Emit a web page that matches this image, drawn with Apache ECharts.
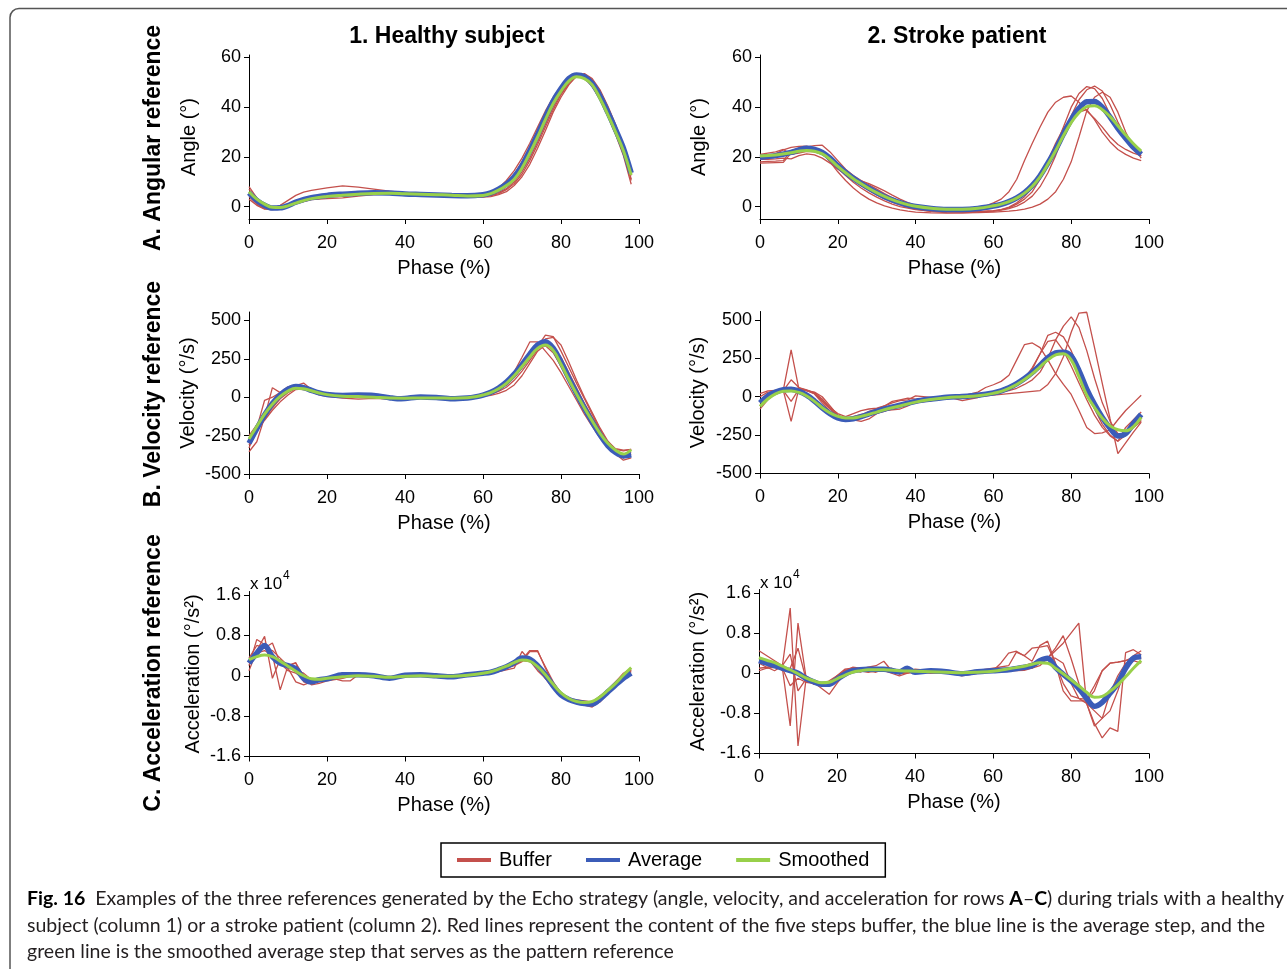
<!DOCTYPE html>
<html lang="en">
<head>
<meta charset="UTF-8">
<title>Echo strategy references</title>
<script src="https://cdn.jsdelivr.net/npm/echarts@6.0.0/dist/echarts.min.js"></script>
<style>
  html, body { margin: 0; padding: 0; background: #fff; }
  #main { width: 1287px; height: 969px; }
</style>
</head>
<body>
<div id="main"></div>
<script type="text/javascript">
// values, as [phase %, value]

// A1 healthy subject, angle (deg)
var a1Buf1 = [[0,8],[2,3.5],[4,0.5],[6,-0.5],[8,0.5],[10,2.5],[12,4.5],[14,5.8],[16,6.5],[20,7.5],[24,8.3],[28,7.8],[32,7],[36,6.2],[40,5.6],[44,5.2],[48,5],[52,4.8],[56,4.5],[60,4.6],[62,5.5],[64,7.5],[66,10.5],[68,14.5],[70,19.5],[72,25.5],[74,32],[76,38.5],[78,44],[80,48.5],[82,51.5],[84,52.5],[86,51.5],[88,48.5],[90,43],[92,36.5],[94,29],[96,20.5],[98,9]];
var a1Buf2 = [[0,3],[2,0.5],[4,-1],[6,-1.2],[8,-0.8],[10,0],[12,1.2],[16,2.8],[20,3.2],[24,3.5],[28,4.2],[32,4.8],[36,5],[40,4.9],[44,4.8],[48,4.6],[52,4.4],[56,4],[60,3.8],[62,4],[64,4.8],[66,6],[68,8.5],[70,12],[72,17],[74,23.5],[76,30.5],[78,38],[80,44],[82,49],[84,52.5],[86,53.5],[88,51.5],[90,47],[92,40.5],[94,33],[96,24.5],[98,13]];
var a1Buf3 = [[0,5],[2,1.5],[4,-0.5],[6,-1],[8,-0.8],[10,0.3],[12,1.5],[16,3],[20,3.8],[24,4.2],[28,4.8],[32,5.2],[36,5.3],[40,5.2],[44,5],[48,4.9],[52,4.7],[56,4.3],[60,4.2],[62,4.6],[64,5.6],[66,7.2],[68,10],[70,14],[72,19.5],[74,26],[76,33],[78,40],[80,45.5],[82,50],[84,52.5],[86,53],[88,50.5],[90,45.5],[92,39],[94,31.5],[96,23],[98,11]];
var a1Buf4 = [[0,7],[2,2.5],[4,0],[6,-0.6],[8,-0.2],[10,1],[12,2.2],[16,3.6],[20,4.2],[24,4.6],[28,5],[32,5.4],[36,5.5],[40,5.3],[44,5.1],[48,4.9],[52,4.6],[56,4.4],[60,4.6],[62,5.4],[64,7],[66,9.5],[68,13],[70,18],[72,24],[74,31],[76,37.5],[78,43],[80,47.5],[82,51],[84,52.5],[86,52],[88,49],[90,44],[92,37.5],[94,30],[96,21.5],[98,10.5]];
var a1Buf5 = [[0,4],[2,1],[4,-0.8],[6,-1],[8,-0.5],[10,0.5],[12,1.8],[16,3.3],[20,4],[24,4.4],[28,4.9],[32,5.3],[36,5.4],[40,5.2],[44,5],[48,4.8],[52,4.5],[56,4.1],[60,4],[62,4.3],[64,5.2],[66,6.8],[68,9.3],[70,13],[72,18.5],[74,25],[76,32],[78,39],[80,45],[82,49.5],[84,52.5],[86,53.3],[88,51],[90,46.5],[92,40],[94,32.5],[96,24],[98,12.5]];
var a1Avg = [[0,5.5],[2,2.5],[4,0.5],[6,-0.6],[8,-0.5],[10,0.4],[12,1.8],[16,3.6],[20,4.5],[24,5],[28,5.4],[32,5.6],[36,5.5],[40,5.1],[44,4.9],[48,4.7],[52,4.5],[56,4.4],[60,4.8],[62,5.5],[64,7],[66,9],[68,12],[70,16.5],[72,22.5],[74,29],[76,36],[78,42.5],[80,47.5],[82,51.5],[84,53],[86,52.3],[88,49.5],[90,44.5],[92,38],[94,31],[96,23.5],[98,13.5]];
var a1Smooth = [[0,6],[2,3],[4,1],[6,-0.3],[8,-0.4],[10,0.3],[12,1.4],[16,3.2],[20,4.1],[24,4.6],[28,5],[32,5.3],[36,5.4],[40,5.2],[44,5],[48,4.8],[52,4.6],[56,4.3],[60,4.5],[62,5.2],[64,6.6],[66,8.5],[68,11],[70,15.5],[72,21.5],[74,28],[76,35],[78,41.5],[80,46.5],[82,50.5],[84,52.2],[86,51.5],[88,49],[90,43.5],[92,37],[94,30],[96,22.5],[98,12.7]];

// A2 stroke patient, angle (deg)
var a2Buf1 = [[0,20.5],[2,20.8],[4,21.2],[6,22.8],[8,23.8],[10,24.2],[12,24.3],[14,23.5],[16,21.5],[18,18.5],[20,15.5],[22,12.5],[24,9.8],[26,7.5],[28,5.5],[30,3.8],[32,2.3],[34,1],[36,0],[40,-1.2],[44,-1.8],[48,-2],[52,-1.8],[56,-1],[60,1.5],[62,3],[64,6],[66,11],[68,18.5],[70,25.5],[72,32],[74,38],[76,42],[78,44],[80,44.5],[82,42],[84,38.5],[86,35.5],[88,32],[90,28],[92,25],[94,23],[96,21.5],[98,20.5]];
var a2Buf2 = [[0,19],[2,19],[4,19.2],[6,19.5],[8,19.2],[10,20.5],[12,21.2],[14,20.8],[16,19.5],[18,17.5],[20,15],[22,13],[24,11.8],[26,10.3],[28,9.2],[30,7.8],[32,6.3],[34,4.6],[36,3],[38,1.6],[40,0.5],[44,-1],[48,-1.7],[52,-1.9],[56,-1.9],[60,-1.6],[62,-1.2],[64,-0.5],[66,1],[68,3],[70,6],[72,11],[74,17],[76,24],[78,32],[80,40],[82,45.5],[84,48.3],[86,47.5],[88,43.5],[90,37],[92,31],[94,26.5],[96,23.5],[98,21.5]];
var a2Buf3 = [[0,18],[2,18.2],[4,18.3],[6,18.5],[8,22.5],[10,23.5],[12,24],[14,24.5],[16,24.7],[18,22],[20,18.5],[22,15],[24,12.5],[26,10.5],[28,8.8],[30,7],[32,5.2],[34,3.5],[36,2],[38,0.8],[40,-0.2],[44,-1.5],[48,-2],[52,-2.2],[56,-2.1],[60,-1.8],[62,-1.4],[64,-0.8],[66,0.2],[68,1.8],[70,4.2],[72,8],[74,13.5],[76,20.5],[78,28.5],[80,36.5],[82,43],[84,47],[86,48.5],[88,46.5],[90,41],[92,34],[94,28],[96,23.5],[98,20.5]];
var a2Buf4 = [[0,21],[2,21.5],[4,22],[6,23],[8,21],[10,21.5],[12,22.2],[14,22],[16,21],[18,19],[20,16.5],[22,13.5],[24,10.8],[26,8.5],[28,6.5],[30,4.7],[32,3.2],[34,1.8],[36,0.7],[38,-0.3],[40,-1],[44,-2],[48,-2.4],[52,-2.5],[56,-2.4],[60,-2.2],[62,-2],[64,-1.8],[66,-1.5],[68,-1],[70,-0.2],[72,1],[74,3],[76,6],[78,11],[80,18],[82,28],[84,38.5],[86,44],[88,46],[90,44],[92,38],[94,30],[96,24],[98,19.5]];
var a2Buf5 = [[0,17.5],[2,17.6],[4,17.7],[6,17.8],[8,21.5],[10,22.5],[12,23],[14,22.5],[16,21.5],[18,18],[20,14],[22,10.5],[24,7.5],[26,5],[28,3],[30,1.5],[32,0.3],[34,-0.6],[36,-1.3],[38,-1.8],[40,-2.2],[44,-2.5],[48,-2.6],[52,-2.5],[56,-2.2],[60,-1.8],[62,-1.2],[64,-0.2],[66,1.5],[68,4],[70,7.5],[72,12.5],[74,18.5],[76,25.5],[78,31.5],[80,35.5],[82,38],[84,39],[86,35],[88,30],[90,26],[92,23],[94,21],[96,19.5],[98,18.5]];
var a2Avg = [[0,19.8],[4,20.5],[8,21.8],[10,22.8],[12,23.5],[14,23],[16,21.8],[18,19.5],[20,16.5],[22,13.8],[24,11.4],[26,9.3],[28,7.4],[30,5.6],[32,4],[34,2.7],[36,1.6],[38,0.7],[40,0],[44,-0.8],[48,-1.2],[52,-1.2],[56,-0.8],[60,0.2],[62,0.9],[64,2],[66,3.5],[68,5.6],[70,8.5],[72,12.4],[74,17.5],[76,23],[78,29.2],[80,35],[82,39.5],[84,42.2],[86,42.3],[88,40],[90,36],[92,31.5],[94,27.5],[96,23.8],[98,21]];
var a2Smooth = [[0,20.4],[4,20.8],[8,21.7],[10,22.3],[12,22.6],[14,22.3],[16,21.2],[18,19],[20,16.2],[22,13.6],[24,11.2],[26,9.2],[28,7.3],[30,5.6],[32,4.1],[34,2.8],[36,1.7],[38,0.8],[40,0.1],[44,-0.7],[48,-1.1],[52,-1.1],[56,-0.7],[60,0.3],[62,1],[64,2],[66,3.4],[68,5.4],[70,8.2],[72,12],[74,17],[76,22.5],[78,28.5],[80,33.8],[82,37.8],[84,40.2],[86,40.6],[88,39],[90,36.2],[92,32.5],[94,28.8],[96,25.3],[98,22.3]];

// B1 healthy subject, velocity (deg/s)
var b1Buf1 = [[0,-355],[2,-290],[4,-130],[6,62],[8,30],[10,68],[12,80],[14,72],[16,42],[18,25],[20,18],[24,8],[28,-2],[32,2],[36,-5],[40,-10],[44,-8],[48,-5],[52,-6],[56,-2],[60,15],[62,28],[64,50],[66,80],[68,128],[70,190],[72,255],[74,330],[76,405],[78,395],[80,300],[82,195],[84,90],[86,-10],[88,-110],[90,-210],[92,-300],[94,-370],[96,-410],[98,-395]];
var b1Buf2 = [[0,-330],[2,-200],[4,-20],[6,0],[8,30],[10,55],[12,75],[14,92],[16,50],[18,30],[20,22],[24,12],[28,6],[32,3],[36,-4],[40,-6],[44,-5],[48,-4],[52,-5],[56,-2],[60,10],[62,20],[64,38],[66,65],[68,110],[70,170],[72,240],[74,310],[76,380],[78,390],[80,340],[82,230],[84,110],[86,0],[88,-100],[90,-200],[92,-285],[94,-340],[96,-350],[98,-340]];
var b1Buf3 = [[0,-280],[2,-210],[4,-150],[6,-85],[8,-30],[10,15],[12,50],[14,55],[16,40],[18,28],[20,25],[24,20],[28,15],[32,8],[36,0],[40,-5],[44,-4],[48,-3],[52,-4],[56,0],[60,18],[62,35],[64,65],[66,105],[68,165],[70,260],[72,360],[74,360],[76,300],[78,240],[80,160],[82,70],[84,-20],[86,-110],[88,-190],[90,-265],[92,-325],[94,-365],[96,-385],[98,-360]];
var b1Buf4 = [[0,-250],[2,-180],[4,-110],[6,-40],[8,20],[10,60],[12,80],[14,70],[16,35],[18,15],[20,5],[24,-5],[28,-12],[32,-8],[36,-12],[40,-10],[44,-8],[48,-8],[52,-10],[56,-5],[60,5],[62,12],[64,25],[66,45],[68,80],[70,140],[72,220],[74,300],[76,340],[78,330],[80,260],[82,160],[84,60],[86,-40],[88,-130],[90,-215],[92,-290],[94,-335],[96,-345],[98,-340]];
var b1Buf5 = [[0,-310],[2,-220],[4,-140],[6,-70],[8,-10],[10,30],[12,55],[14,50],[16,45],[18,32],[20,20],[24,8],[28,0],[32,-3],[36,-8],[40,-5],[44,-3],[48,-5],[52,-8],[56,-4],[60,12],[62,25],[64,48],[66,82],[68,130],[70,195],[72,270],[74,330],[76,335],[78,290],[80,200],[82,100],[84,5],[86,-85],[88,-170],[90,-250],[92,-320],[94,-370],[96,-395],[98,-370]];
var b1Avg = [[0,-300],[2,-205],[4,-115],[6,-40],[8,15],[10,52],[12,70],[14,63],[16,45],[18,28],[20,18],[24,12],[28,14],[32,12],[36,-3],[38,-10],[40,-8],[44,2],[48,-2],[52,-10],[56,-5],[58,2],[60,14],[62,32],[64,60],[66,98],[68,150],[70,212],[72,280],[74,340],[76,362],[78,320],[80,230],[82,125],[84,25],[86,-70],[88,-160],[90,-245],[92,-315],[94,-360],[96,-382],[98,-375]];
var b1Smooth = [[0,-272],[2,-190],[4,-110],[6,-45],[8,5],[10,40],[12,58],[14,55],[16,42],[18,28],[20,17],[24,7],[28,4],[32,0],[36,-5],[40,-6],[44,-5],[48,-5],[52,-6],[56,-3],[58,3],[60,14],[62,30],[64,55],[66,90],[68,140],[70,200],[72,262],[74,318],[76,340],[78,305],[80,215],[82,115],[84,20],[86,-70],[88,-155],[90,-235],[92,-300],[94,-345],[96,-370],[98,-342]];

// B2 stroke patient, velocity (deg/s)
var b2Buf1 = [[0,20],[2,38],[4,42],[6,45],[8,305],[10,50],[12,40],[14,20],[16,-30],[18,-80],[20,-120],[22,-150],[24,-140],[26,-120],[28,-95],[30,-80],[32,-60],[34,-40],[36,-25],[38,-20],[40,5],[44,-5],[48,-5],[52,5],[56,30],[58,60],[60,78],[62,100],[64,140],[66,240],[68,340],[70,350],[72,320],[74,240],[76,150],[78,80],[80,15],[82,-90],[84,-200],[86,-240],[88,-235],[90,-215],[92,-150],[94,-90],[96,-40],[98,10]];
var b2Buf2 = [[0,-80],[2,-20],[4,20],[6,40],[8,110],[10,60],[12,45],[14,25],[16,-20],[18,-70],[20,-110],[22,-130],[24,-110],[26,-90],[28,-80],[30,-75],[32,-60],[34,-30],[36,-20],[38,-10],[40,-15],[44,-10],[48,0],[52,-25],[56,-5],[60,30],[62,40],[64,55],[66,75],[68,110],[70,180],[72,280],[74,400],[76,420],[78,390],[80,300],[82,180],[84,40],[86,-80],[88,-180],[90,-250],[92,-290],[94,-250],[96,-200],[98,-160]];
var b2Buf3 = [[0,-60],[2,0],[4,30],[6,40],[8,-160],[10,55],[12,40],[14,25],[16,-15],[18,-75],[20,-130],[22,-155],[24,-150],[26,-160],[28,-145],[30,-110],[32,-90],[34,-85],[36,-80],[38,-60],[40,-30],[44,-25],[48,-10],[52,0],[56,5],[60,20],[62,30],[64,40],[66,55],[68,80],[70,110],[72,160],[74,250],[76,370],[78,460],[80,520],[82,450],[84,300],[86,120],[88,-40],[90,-160],[92,-240],[94,-240],[96,-200],[98,-150]];
var b2Buf4 = [[0,0],[2,30],[4,35],[6,40],[8,-30],[10,50],[12,40],[14,30],[16,0],[18,-60],[20,-120],[22,-145],[24,-130],[26,-115],[28,-110],[30,-100],[32,-80],[34,-65],[36,-60],[38,-45],[40,-20],[44,-15],[48,-5],[52,-5],[56,0],[60,10],[62,15],[64,20],[66,25],[68,30],[70,35],[72,40],[74,80],[76,150],[78,260],[80,420],[82,545],[84,550],[86,320],[88,85],[90,-145],[92,-370],[94,-300],[96,-230],[98,-165]];
var b2Buf5 = [[0,-40],[2,10],[4,40],[6,45],[8,45],[10,58],[12,42],[14,18],[16,-40],[18,-95],[20,-140],[22,-150],[24,-145],[26,-140],[28,-120],[30,-105],[32,-95],[34,-70],[36,-60],[38,-50],[40,-40],[44,-25],[48,-10],[52,5],[56,10],[60,20],[62,30],[64,45],[66,75],[68,120],[70,190],[72,280],[74,360],[76,370],[78,300],[80,200],[82,90],[84,-20],[86,-120],[88,-200],[90,-255],[92,-290],[94,-200],[96,-150],[98,-100]];
var b2Avg = [[0,-40],[2,5],[4,30],[6,45],[8,48],[10,35],[12,10],[14,-28],[16,-72],[18,-110],[20,-138],[22,-148],[24,-143],[26,-130],[28,-112],[30,-95],[32,-80],[36,-55],[40,-30],[44,-15],[48,-3],[52,2],[56,10],[60,25],[62,38],[64,58],[66,85],[68,118],[70,158],[72,205],[74,255],[76,285],[78,290],[80,265],[82,170],[84,50],[86,-50],[88,-135],[90,-205],[92,-255],[94,-240],[96,-175],[98,-115]];
var b2Smooth = [[0,-63],[2,-15],[4,18],[6,35],[8,38],[10,28],[12,5],[14,-30],[16,-72],[18,-105],[20,-128],[22,-138],[24,-138],[26,-128],[28,-115],[30,-100],[32,-85],[36,-60],[40,-35],[44,-18],[48,-6],[52,0],[56,6],[60,22],[62,35],[64,55],[66,80],[68,112],[70,150],[72,195],[74,240],[76,272],[78,280],[80,240],[82,130],[84,10],[86,-70],[88,-140],[90,-190],[92,-215],[94,-222],[96,-195],[98,-135]];

// C1 healthy subject, acceleration (x 10^4 deg/s^2)
var c1Buf1 = [[0,0.2],[2,0.72],[4,0.62],[6,0.42],[8,-0.28],[10,0.2],[12,0.26],[14,-0.12],[16,-0.16],[18,-0.1],[20,-0.05],[24,0.05],[28,0.05],[32,0],[36,-0.03],[40,0],[44,0.02],[48,0],[52,-0.02],[56,0.02],[60,0.05],[64,0.1],[68,0.2],[70,0.28],[72,0.48],[74,0.48],[76,0.18],[78,-0.12],[80,-0.35],[82,-0.48],[84,-0.55],[86,-0.58],[88,-0.62],[90,-0.5],[92,-0.32],[94,-0.15],[96,0],[98,0.1]];
var c1Buf2 = [[0,0.1],[2,0.5],[4,0.78],[6,-0.05],[8,0.32],[10,0.15],[12,-0.12],[14,-0.18],[16,-0.12],[18,-0.1],[20,-0.08],[22,-0.06],[24,-0.1],[26,-0.1],[28,0.02],[32,0.02],[36,-0.02],[40,0.02],[44,0.01],[48,-0.01],[52,-0.02],[56,0],[60,0.04],[64,0.08],[68,0.15],[70,0.48],[72,0.3],[74,0.1],[76,-0.05],[78,-0.2],[80,-0.36],[82,-0.45],[84,-0.5],[86,-0.55],[88,-0.6],[90,-0.48],[92,-0.3],[94,-0.12],[96,0.05],[98,0.15]];
var c1Buf3 = [[0,0.35],[2,0.6],[4,0.55],[6,0.65],[8,0.25],[10,0.1],[12,0.05],[14,-0.05],[16,-0.1],[18,-0.1],[20,-0.05],[24,0.05],[28,0.05],[32,0],[36,-0.02],[40,0],[44,0],[48,-0.02],[52,0],[56,0.02],[60,0.06],[64,0.1],[68,0.25],[70,0.35],[72,0.3],[74,0.15],[76,-0.05],[78,-0.25],[80,-0.4],[82,-0.45],[84,-0.48],[86,-0.5],[88,-0.52],[90,-0.4],[92,-0.28],[94,-0.12],[96,0.02],[98,0.12]];
var c1Buf4 = [[0,0.3],[2,0.45],[4,0.5],[6,0.4],[8,0.3],[10,0.2],[12,0.1],[14,0.05],[16,-0.08],[18,-0.1],[20,-0.05],[24,0.05],[28,0.03],[32,0],[36,-0.03],[40,0],[44,0.01],[48,0],[52,-0.01],[56,0.01],[60,0.05],[64,0.13],[68,0.28],[70,0.32],[72,0.5],[74,0.5],[76,0.15],[78,-0.15],[80,-0.35],[82,-0.47],[84,-0.52],[86,-0.55],[88,-0.6],[90,-0.52],[92,-0.35],[94,-0.18],[96,-0.02],[98,0.08]];
var c1Buf5 = [[0,0.25],[2,0.5],[4,0.55],[6,0.5],[8,0.35],[10,0.2],[12,0.25],[14,0],[16,-0.18],[18,-0.15],[20,-0.1],[24,-0.05],[28,0.03],[32,0],[36,-0.02],[40,0.01],[44,0.01],[48,-0.01],[52,-0.01],[56,0.01],[60,0.04],[64,0.1],[68,0.22],[70,0.3],[72,0.28],[74,0.2],[76,-0.05],[78,-0.25],[80,-0.38],[82,-0.46],[84,-0.5],[86,-0.54],[88,-0.57],[90,-0.45],[92,-0.3],[94,-0.14],[96,0.01],[98,0.12]];
var c1Avg = [[0,0.25],[2,0.45],[4,0.6],[6,0.38],[8,0.25],[10,0.2],[12,0.14],[14,-0.05],[16,-0.12],[18,-0.08],[20,-0.06],[24,0.02],[28,0.02],[32,0],[36,-0.05],[40,0.01],[44,0.02],[48,0],[52,-0.02],[56,0.02],[60,0.05],[62,0.07],[64,0.12],[66,0.18],[68,0.26],[70,0.35],[72,0.33],[74,0.2],[76,0.02],[78,-0.2],[80,-0.38],[82,-0.47],[84,-0.52],[86,-0.55],[88,-0.56],[90,-0.46],[92,-0.32],[94,-0.18],[96,-0.05],[98,0.05]];
var c1Smooth = [[0,0.32],[2,0.38],[4,0.41],[6,0.38],[8,0.29],[10,0.19],[12,0.09],[14,0],[16,-0.06],[18,-0.07],[20,-0.05],[24,-0.02],[28,0],[32,-0.01],[36,-0.03],[40,-0.01],[44,0],[48,-0.01],[52,-0.01],[56,0.01],[60,0.05],[62,0.08],[64,0.13],[66,0.19],[68,0.26],[70,0.31],[72,0.29],[74,0.18],[76,0.02],[78,-0.17],[80,-0.34],[82,-0.45],[84,-0.51],[86,-0.53],[88,-0.51],[90,-0.42],[92,-0.29],[94,-0.15],[96,0.01],[98,0.16]];

// C2 stroke patient, acceleration (x 10^4 deg/s^2)
var c2Buf1 = [[0,0.45],[2,0.35],[4,0.25],[6,0.15],[8,1.3],[10,-1.45],[12,-0.15],[14,-0.2],[16,-0.25],[18,-0.2],[20,-0.05],[22,0.08],[24,0.1],[26,0.08],[28,0.12],[30,0.15],[32,0.24],[34,0.05],[36,0],[40,0.05],[44,0.02],[48,0.05],[52,-0.02],[56,0.05],[60,0.08],[64,0.1],[68,0.15],[72,0.25],[74,0.3],[76,0.45],[78,0.6],[80,0.8],[82,1.0],[84,-0.6],[86,-1.0],[88,-1.29],[90,-1.09],[92,-1.16],[94,0.41],[96,0.47],[98,0.37]];
var c2Buf2 = [[0,0.1],[2,0.12],[4,0.15],[6,0.1],[8,-1.05],[10,1.0],[12,-0.05],[14,-0.15],[16,-0.2],[18,-0.25],[20,-0.1],[22,0.05],[24,0.12],[26,0.1],[28,0.05],[30,0.1],[32,0.05],[34,0],[36,-0.05],[40,0.05],[44,0],[48,0.02],[52,-0.05],[56,0],[60,0.05],[62,0.2],[64,0.4],[66,0.44],[68,0.35],[70,0.24],[72,0.55],[74,0.64],[76,0.2],[78,-0.2],[80,-0.45],[82,-0.5],[84,-0.52],[86,-0.25],[88,0.05],[90,0.2],[92,0.22],[94,0.25],[96,0.28],[98,0.3]];
var c2Buf3 = [[0,0.2],[2,0.12],[4,0.05],[6,0.15],[8,0.38],[10,-0.35],[12,-0.12],[14,-0.18],[16,-0.3],[18,-0.42],[20,-0.2],[22,0],[24,0.08],[26,0.02],[28,0.1],[30,0.05],[32,0.08],[34,0.1],[36,-0.02],[40,0.08],[44,0.05],[48,0.03],[52,0],[56,0.02],[60,0.03],[64,0.05],[68,0.06],[70,0.1],[72,0.15],[74,0.3],[76,0.5],[78,0.75],[80,0.3],[82,-0.2],[84,-0.6],[86,-1.05],[88,-0.9],[90,-0.4],[92,-0.05],[94,0.2],[96,0.25],[98,0.2]];
var c2Buf4 = [[0,0.3],[2,0.25],[4,0.2],[6,0.05],[8,0.1],[10,0.5],[12,-0.1],[14,-0.22],[16,-0.22],[18,-0.2],[20,-0.1],[22,0.05],[24,0.05],[26,0.05],[28,0.02],[30,0.05],[32,0.1],[34,0.05],[36,0],[40,0.02],[44,0.05],[48,0.02],[52,0.02],[56,0.05],[60,0.1],[64,0.15],[66,0.42],[68,0.35],[70,0.5],[72,0.52],[74,0.55],[76,0.2],[78,-0.35],[80,-0.55],[82,-0.55],[84,-0.55],[86,-0.35],[88,0.05],[90,0.2],[92,0.22],[94,0.25],[96,0.32],[98,0.3]];
var c2Buf5 = [[0,0.05],[2,0.1],[4,0.12],[6,0.1],[8,-0.25],[10,-0.1],[12,-0.18],[14,-0.2],[16,-0.22],[18,-0.15],[20,-0.05],[22,0.05],[24,0.1],[26,0.08],[28,0.05],[30,0.02],[32,0.08],[34,0.05],[36,0],[40,0.02],[44,0.02],[48,0.01],[52,0],[56,0.01],[60,0.05],[64,0.08],[68,0.1],[70,0.1],[72,0.25],[74,0.3],[76,0.3],[78,0.2],[80,-0.2],[82,-0.5],[84,-0.6],[86,-0.75],[88,-0.9],[90,-0.75],[92,-0.35],[94,0.1],[96,0.35],[98,0.45]];
var c2Avg = [[0,0.25],[2,0.2],[4,0.15],[6,0.1],[8,0.05],[10,0],[12,-0.1],[14,-0.17],[16,-0.22],[18,-0.22],[20,-0.12],[22,-0.02],[24,0.05],[28,0.08],[32,0.08],[36,0.03],[38,0.1],[40,0.02],[44,0.05],[48,0.03],[52,-0.01],[56,0.03],[60,0.05],[64,0.07],[68,0.12],[70,0.15],[72,0.25],[74,0.3],[76,0.12],[78,-0.02],[80,-0.15],[82,-0.3],[84,-0.5],[86,-0.66],[88,-0.58],[90,-0.4],[92,-0.2],[94,0.1],[96,0.3],[98,0.33]];
var c2Smooth = [[0,0.31],[2,0.26],[4,0.21],[6,0.14],[8,0.07],[10,-0.01],[12,-0.09],[14,-0.15],[16,-0.19],[18,-0.18],[20,-0.11],[22,-0.04],[24,0.02],[26,0.05],[28,0.07],[32,0.07],[36,0.05],[40,0.04],[44,0.03],[48,0.02],[52,0.01],[56,0.02],[60,0.04],[64,0.09],[68,0.14],[70,0.18],[72,0.21],[74,0.2],[76,0.1],[78,-0.01],[80,-0.13],[82,-0.25],[84,-0.38],[86,-0.48],[88,-0.46],[90,-0.36],[92,-0.23],[94,-0.07],[96,0.1],[98,0.25]];

var legendNames = ['Buffer', 'Average', 'Smoothed'];
var colTitles = ['1. Healthy subject', '2. Stroke patient'];
var rowTitles = ['A. Angular reference', 'B. Velocity reference', 'C. Acceleration reference'];
var yNames = ['Angle (°)', 'Velocity (°/s)', 'Acceleration (°/s²)'];
var yTickValues = [[0, 20, 40, 60], [-500, -250, 0, 250, 500], [-1.6, -0.8, 0, 0.8, 1.6]];
var yRanges = [[-5, 61], [-500, 555], [-1.6, 1.67]];
var xName = 'Phase (%)';
var captionLines = [
    '{b|Fig. 16}  Examples of the three references generated by the Echo strategy (angle, velocity, and acceleration for rows {b|A}–{b|C}) during trials with a healthy',
    'subject (column 1) or a stroke patient (column 2). Red lines represent the content of the five steps buffer, the blue line is the average step, and the',
    'green line is the smoothed average step that serves as the pattern reference'
];

var myChart = echarts.init(document.getElementById('main'));

var FONT = '"Liberation Sans", Arial, Helvetica, sans-serif';
var CAPFONT = 'Lato, "Noto Sans", sans-serif';
var RED = '#c4504c', BLUE = '#3b5cb8', GREEN = '#98d04a';

// panel boxes (pixels) and the y-name gap of each
var panels = [
    {row: 0, grid: {left: 249, top: 55, width: 390, height: 164}, gap: 50, buf: [a1Buf1, a1Buf2, a1Buf3, a1Buf4, a1Buf5], avg: a1Avg, sm: a1Smooth},
    {row: 0, grid: {left: 760, top: 55, width: 389, height: 164}, gap: 51, buf: [a2Buf1, a2Buf2, a2Buf3, a2Buf4, a2Buf5], avg: a2Avg, sm: a2Smooth},
    {row: 1, grid: {left: 249, top: 312, width: 390, height: 162}, gap: 51, buf: [b1Buf1, b1Buf2, b1Buf3, b1Buf4, b1Buf5], avg: b1Avg, sm: b1Smooth},
    {row: 1, grid: {left: 760, top: 311.5, width: 389, height: 162}, gap: 52, buf: [b2Buf1, b2Buf2, b2Buf3, b2Buf4, b2Buf5], avg: b2Avg, sm: b2Smooth},
    {row: 2, grid: {left: 249, top: 591.5, width: 390, height: 165}, gap: 46, buf: [c1Buf1, c1Buf2, c1Buf3, c1Buf4, c1Buf5], avg: c1Avg, sm: c1Smooth},
    {row: 2, grid: {left: 759, top: 589.5, width: 390, height: 164}, gap: 51, buf: [c2Buf1, c2Buf2, c2Buf3, c2Buf4, c2Buf5], avg: c2Avg, sm: c2Smooth}
];

var blackLine = {show: true, onZero: false, lineStyle: {color: '#000', width: 1}};
var tick = {show: true, inside: false, length: 5, lineStyle: {color: '#000', width: 1}};

var grids = [], xAxes = [], yAxes = [], series = [];

panels.forEach(function (p, i) {
    grids.push(Object.assign({containLabel: false, outerBoundsMode: 'none'}, p.grid));
    xAxes.push({
        type: 'value', gridIndex: i, min: 0, max: 100, interval: 20,
        axisLine: blackLine, axisTick: tick, splitLine: {show: false},
        axisLabel: {color: '#000', fontSize: 18, fontFamily: FONT, margin: 15},
        name: xName, nameLocation: 'middle', nameGap: 39,
        nameTextStyle: {color: '#000', fontSize: 20, fontFamily: FONT}
    });
    yAxes.push({
        type: 'value', gridIndex: i, min: yRanges[p.row][0], max: yRanges[p.row][1],
        axisLine: blackLine,
        axisTick: Object.assign({customValues: yTickValues[p.row]}, tick),
        axisLabel: {customValues: yTickValues[p.row], color: '#000', fontSize: 18, fontFamily: FONT, margin: 8},
        splitLine: {show: false},
        name: yNames[p.row], nameLocation: 'middle', nameGap: p.gap,
        nameTextStyle: {color: '#000', fontSize: 20, fontFamily: FONT}
    });
    p.buf.forEach(function (d) {
        series.push(line('Buffer', d, i, RED, 1.3, 2, false));
    });
    series.push(line('Average', p.avg, i, BLUE, 5.5, 3, 0.3));
    series.push(line('Smoothed', p.sm, i, GREEN, 3, 4, 0.4));
});

function line(name, data, idx, color, width, z, smooth) {
    return {
        name: name, type: 'line', xAxisIndex: idx, yAxisIndex: idx, data: data,
        showSymbol: false, symbol: 'none', smooth: smooth, z: z,
        lineStyle: {color: color, width: width}, itemStyle: {color: color},
        emphasis: {disabled: true}
    };
}

// free text: frame, row labels, column titles, x 10^4, caption
var graphics = [{
    type: 'rect', silent: true, z: 0,
    shape: {x: 10, y: 8.5, width: 1400, height: 1100, r: 9},
    style: {fill: 'none', stroke: '#555', lineWidth: 1.5}
}];
var rowY = [138, 394, 673];
rowTitles.forEach(function (t, r) {
    graphics.push({
        type: 'text', x: 154, y: rowY[r], rotation: Math.PI / 2,
        style: {text: t, fill: '#000', font: 'bold 23px ' + FONT,
            align: 'center', verticalAlign: 'middle', textAlign: 'center', textVerticalAlign: 'middle'}
    });
});
colTitles.forEach(function (t, c) {
    graphics.push({
        type: 'text', x: [447, 957][c], y: 37,
        style: {text: t, fill: '#000', font: 'bold 23px ' + FONT,
            align: 'center', verticalAlign: 'middle', textAlign: 'center', textVerticalAlign: 'middle'}
    });
});
[[250, 584], [760, 583]].forEach(function (pos) {
    graphics.push({type: 'text', x: pos[0], y: pos[1],
        style: {text: 'x 10', fill: '#000', font: '17px ' + FONT, verticalAlign: 'middle', textVerticalAlign: 'middle'}});
    graphics.push({type: 'text', x: pos[0] + 33, y: pos[1] - 8,
        style: {text: '4', fill: '#000', font: '12px ' + FONT, verticalAlign: 'middle', textVerticalAlign: 'middle'}});
});
captionLines.forEach(function (t, k) {
    graphics.push({
        type: 'text', x: 27, y: 899 + k * 26.5,
        style: {
            text: t, fill: '#231f20', fontSize: 19.5, fontFamily: CAPFONT,
            verticalAlign: 'middle', textVerticalAlign: 'middle',
            rich: {b: {fontWeight: 'bold', fontSize: 19.5, fontFamily: CAPFONT, fill: '#000', color: '#000'}}
        }
    });
});

var option = {
    backgroundColor: '#fff',
    animation: false,
    legend: {
        data: legendNames,
        left: 441, top: 843,
        icon: 'rect', itemWidth: 34, itemHeight: 4, itemGap: 34,
        padding: [7, 16, 7, 16],
        borderColor: '#000', borderWidth: 1.5,
        textStyle: {color: '#000', fontSize: 20, fontFamily: FONT, padding: [0, 0, 0, 3]}
    },
    grid: grids,
    xAxis: xAxes,
    yAxis: yAxes,
    series: series,
    graphic: graphics
};

myChart.setOption(option);
</script>
</body>
</html>
